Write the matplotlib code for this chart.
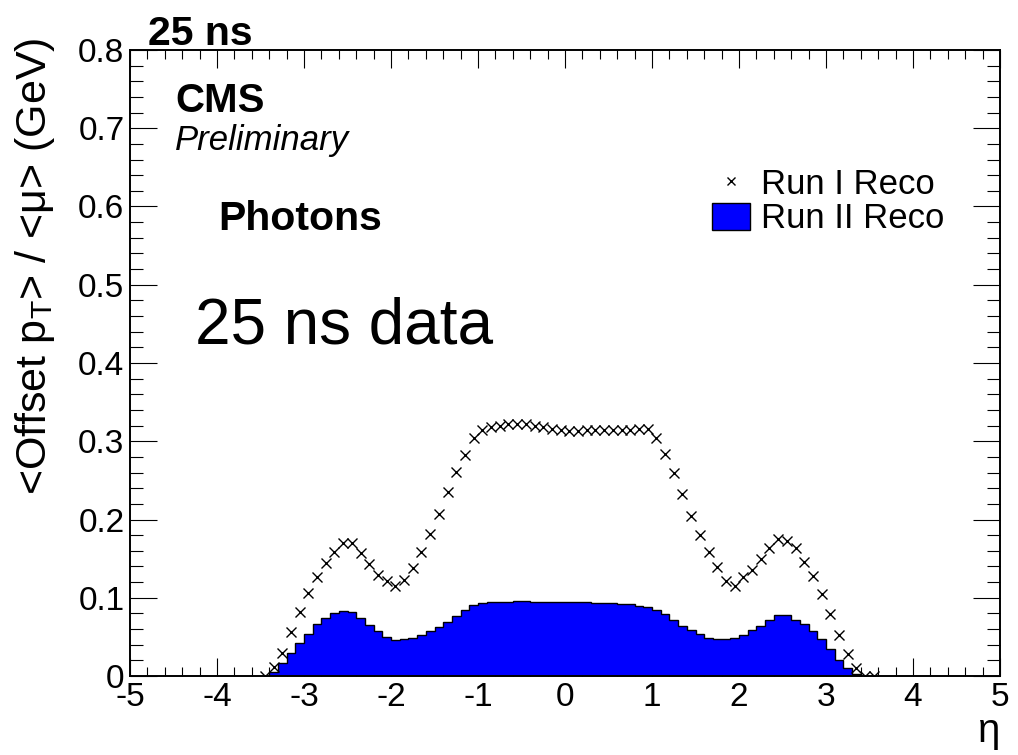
import numpy as np
import matplotlib.pyplot as plt
from matplotlib.lines import Line2D
from matplotlib.patches import Patch
from matplotlib.ticker import MultipleLocator, FuncFormatter

plt.rcParams['font.family'] = ['Liberation Sans', 'DejaVu Sans']
plt.rcParams['mathtext.default'] = 'regular'
plt.rcParams['axes.unicode_minus'] = False

# Run II Reco histogram: 0.1 wide eta bins from -3.4 to 3.4
run2_edges = np.linspace(-3.4, 3.4, 69)
run2_offset = [
    0.005, 0.016, 0.029, 0.042, 0.054, 0.066, 0.074, 0.080, 0.083, 0.082,
    0.074, 0.065, 0.057, 0.050, 0.046, 0.047, 0.049, 0.052, 0.057, 0.063,
    0.069, 0.077, 0.084, 0.091, 0.093,
    0.094, 0.094, 0.095, 0.096, 0.096, 0.095, 0.094, 0.094, 0.095, 0.095,
    0.094, 0.094, 0.093, 0.093, 0.093, 0.092, 0.092, 0.090,
    0.088, 0.084, 0.079, 0.072, 0.064, 0.059, 0.054, 0.049, 0.047, 0.047,
    0.049, 0.052, 0.059, 0.064, 0.071, 0.078, 0.078, 0.072, 0.067, 0.057,
    0.047, 0.035, 0.020, 0.010, 0.003,
]

# Run I Reco points at bin centres
run1_eta = np.linspace(-3.45, 3.55, 71)
run1_offset = [
    0.000, 0.011, 0.030, 0.056, 0.082, 0.106, 0.126, 0.145, 0.158, 0.170,
    0.170, 0.157, 0.143, 0.129, 0.122, 0.115, 0.123, 0.138, 0.158, 0.181,
    0.207, 0.235, 0.261, 0.283, 0.304,
    0.314, 0.318, 0.320, 0.322, 0.322, 0.322, 0.320, 0.318, 0.316, 0.314,
    0.313, 0.313, 0.314, 0.315, 0.315, 0.315, 0.315, 0.315, 0.316, 0.316,
    0.304, 0.284, 0.259, 0.232, 0.205, 0.180, 0.159, 0.139, 0.122, 0.115,
    0.126, 0.136, 0.149, 0.163, 0.175, 0.173, 0.163, 0.146, 0.128, 0.105,
    0.079, 0.052, 0.028, 0.010, 0.000, 0.000,
]

fig = plt.figure(figsize=(10.18, 7.55), dpi=100)
ax = fig.add_axes([130 / 1018, 1 - 676 / 755, 870 / 1018, 626 / 755])

ax.stairs(run2_offset, run2_edges, fill=True, color='blue', zorder=2)
ax.stairs(run2_offset, run2_edges, color='black', lw=1.0, zorder=3)
ax.plot(run1_eta, run1_offset, ls='none', marker='x', color='black',
        ms=7.5, mew=1.0, zorder=4)

ax.set_xlim(-5, 5)
ax.set_ylim(0, 0.8)
ax.xaxis.set_major_locator(MultipleLocator(1))
ax.xaxis.set_minor_locator(MultipleLocator(0.2))
ax.yaxis.set_major_locator(MultipleLocator(0.1))
ax.yaxis.set_minor_locator(MultipleLocator(0.02))
ax.yaxis.set_major_formatter(FuncFormatter(lambda v, p: f'{v:g}'))
ax.tick_params(which='both', direction='in', top=True, right=True,
               labelsize=24, width=0.8)
ax.tick_params(axis='x', which='major', length=13, pad=4)
ax.tick_params(axis='x', which='minor', length=6.5)
ax.tick_params(axis='y', which='major', length=19.5, pad=4)
ax.tick_params(axis='y', which='minor', length=9.5)
for s in ax.spines.values():
    s.set_linewidth(1.4)

ax.set_ylabel('<Offset p$_T$> / <μ> (GeV)', fontsize=31)
ax.yaxis.set_label_coords(-0.084, 0.655)
ax.set_xlabel('η', fontsize=29, loc='right')
ax.xaxis.set_label_coords(1.0, -0.058)

fig.text(148 / 1018, 1 - 45 / 755, '25 ns', fontsize=29.5, fontweight='bold')
fig.text(175 / 1018, 1 - 112 / 755, 'CMS', fontsize=29, fontweight='bold')
fig.text(175 / 1018, 1 - 150 / 755, 'Preliminary', fontsize=25, style='italic')
fig.text(218 / 1018, 1 - 230 / 755, 'Photons', fontsize=29.5, fontweight='bold')
fig.text(195 / 1018, 1 - 343 / 755, '25 ns data', fontsize=46)

handles = [
    Line2D([], [], ls='none', marker='x', color='black', ms=6, mew=1.0),
    Patch(facecolor='blue', edgecolor='black'),
]
ax.legend(handles, ['Run I Reco', 'Run II Reco'], loc='upper left',
          bbox_to_anchor=(0.669, 0.812), frameon=False, fontsize=25,
          borderpad=0, borderaxespad=0, handlelength=1.1, handleheight=0.85,
          handletextpad=0.3, labelspacing=0.05)

fig.savefig('out.png', dpi=100)
